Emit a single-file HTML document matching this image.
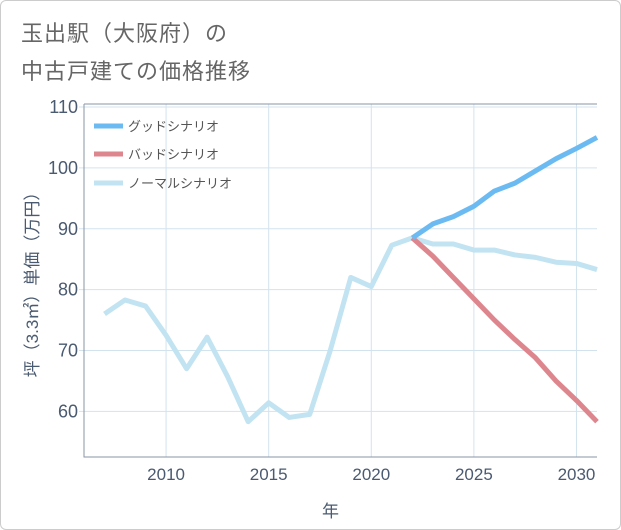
<!DOCTYPE html>
<html><head><meta charset="utf-8"><style>
body{margin:0;background:#fff;font-family:"Liberation Sans","Noto Sans CJK JP",sans-serif}
#wrap{position:relative;width:619px;height:528px;border:1px solid #ccc;border-radius:6px;overflow:hidden}
.title{position:absolute;left:20px;font-size:22px;color:#666;letter-spacing:1px}
</style></head><body>
<div id="wrap">
<div class="title" style="top:15px">玉出駅（大阪府）の</div>
<div class="title" style="top:53px">中古戸建ての価格推移</div>
<svg id="chart" width="621" height="530" style="position:absolute;left:-1px;top:-1px"></svg>
</div>
<script>
const years=[2007,2008,2009,2010,2011,2012,2013,2014,2015,2016,2017,2018,2019,2020,2021,2022,2023,2024,2025,2026,2027,2028,2029,2030,2031];
const normal=[76,78.3,77.3,72.5,67,72.2,65.7,58.3,61.4,59,59.5,70,82,80.5,87.3,88.5,87.5,87.5,86.5,86.5,85.7,85.3,84.5,84.3,83.3];
const goodYears=[2022,2023,2024,2025,2026,2027,2028,2029,2030,2031];
const good=[88.5,90.8,92,93.7,96.2,97.5,99.5,101.5,103.2,105];
const bad=[88.5,85.5,82,78.5,75,71.8,68.8,65,61.8,58.3];
const yTicks=[60,70,80,90,100,110];
const xTicks=[2010,2015,2020,2025,2030];
const L=84,R=597,T=104,B=457,x0=2006,x1=2031,y0=52.5,y1=110.5;
const X=v=>L+(v-x0)/(x1-x0)*(R-L), Y=v=>B-(v-y0)/(y1-y0)*(B-T);
const svg=document.getElementById('chart'),NS='http://www.w3.org/2000/svg';
function mk(t,a,p){const e=document.createElementNS(NS,t);for(const k in a)e.setAttribute(k,a[k]);(p||svg).appendChild(e);return e;}
const tc='#4a5a70';
xTicks.forEach(v=>{const l=mk('line',{x1:X(v),x2:X(v),y1:T,y2:B,stroke:'#d3e3ee','stroke-width':1});

const t=mk('text',{x:X(v),y:B+23,'text-anchor':'middle','font-size':17,fill:tc});t.textContent=v;
});
yTicks.forEach(v=>{const l=mk('line',{x1:L-5,x2:R,y1:Y(v),y2:Y(v),stroke:'#d3e3ee','stroke-width':1});

const t=mk('text',{x:L-6,y:Y(v)+6,'text-anchor':'end','font-size':18,fill:tc});t.textContent=v;
});
const ax=mk('path',{d:`M${L},${T}V${B}H${R}`,fill:'none',stroke:'#8a96a6','stroke-width':1});

const tp=mk('line',{x1:L,x2:R,y1:T,y2:T,stroke:'#8a96a6','stroke-width':1});

function line(xs,ys,c,n){const p=mk('polyline',{points:xs.map((x,i)=>X(x)+','+Y(ys[i])).join(' '),fill:'none',stroke:c,'stroke-width':5,'stroke-linejoin':'round'});
}
line(years,normal,'#c2e3f1','normal-scenario-line');
line(goodYears,bad,'#de868e','bad-scenario-line');
line(goodYears,good,'#6cbaf2','good-scenario-line');
[['グッドシナリオ','#6cbaf2',126],['バッドシナリオ','#de868e',154],['ノーマルシナリオ','#c2e3f1',183]].forEach(([s,c,y])=>{
const g=mk('g',{});
mk('line',{x1:94,x2:123,y1:y,y2:y,stroke:c,'stroke-width':5},g);
const t=mk('text',{x:128,y:y+5,'font-size':13,fill:'#555'},g);t.textContent=s;});
const xt=mk('text',{x:(L+R)/2-10,y:517,'text-anchor':'middle','font-size':17,fill:tc});xt.textContent='年';

const yt=mk('text',{x:0,y:0,'text-anchor':'middle','font-size':17,fill:tc,transform:`translate(38,${(T+B)/2}) rotate(-90)`});yt.textContent='坪（3.3㎡）単価（万円）';

</script>
</body></html>
